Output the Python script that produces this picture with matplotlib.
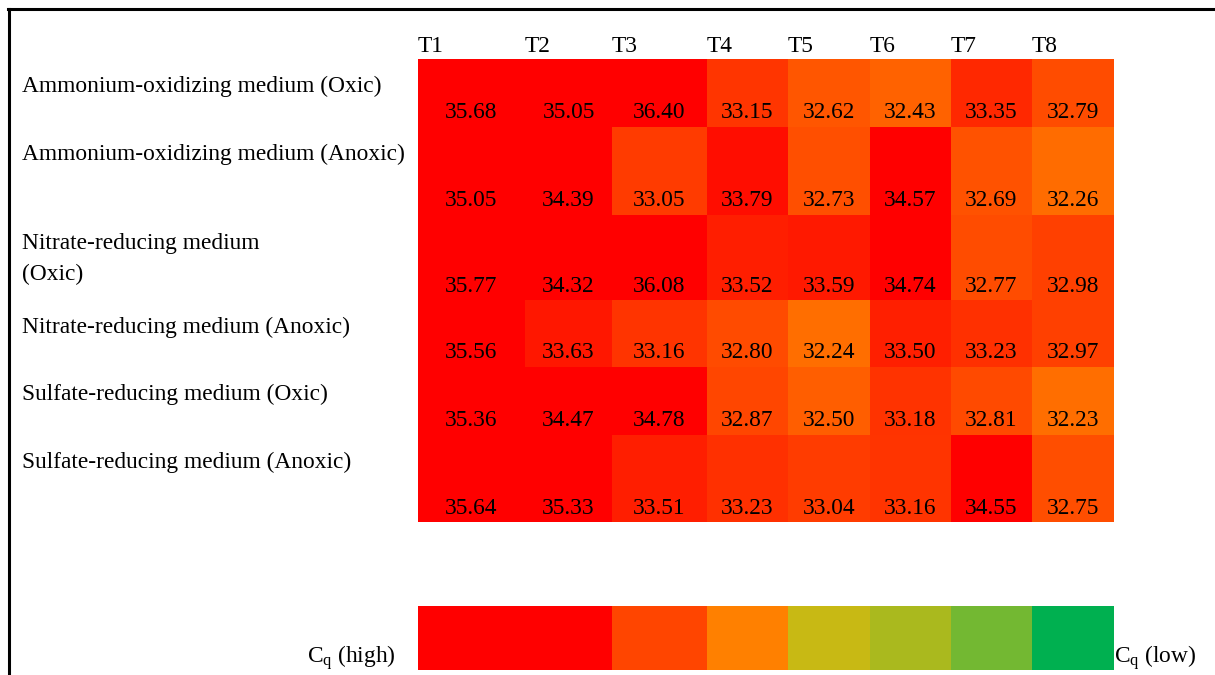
import numpy as np
import matplotlib.pyplot as plt
from matplotlib.colors import LinearSegmentedColormap, ListedColormap
from matplotlib.lines import Line2D

plt.rcParams['font.family'] = ['Liberation Serif', 'DejaVu Serif']
plt.rcParams['mathtext.fontset'] = 'custom'
plt.rcParams['mathtext.rm'] = 'Liberation Serif'
plt.rcParams['mathtext.it'] = 'Liberation Serif:italic'

# ----- data -----
columns = ["T1", "T2", "T3", "T4", "T5", "T6", "T7", "T8"]
rows = [
    "Ammonium-oxidizing medium (Oxic)",
    "Ammonium-oxidizing medium (Anoxic)",
    "Nitrate-reducing medium\n(Oxic)",
    "Nitrate-reducing medium (Anoxic)",
    "Sulfate-reducing medium (Oxic)",
    "Sulfate-reducing medium (Anoxic)",
]
cq = np.array([
    [35.68, 35.05, 36.40, 33.15, 32.62, 32.43, 33.35, 32.79],
    [35.05, 34.39, 33.05, 33.79, 32.73, 34.57, 32.69, 32.26],
    [35.77, 34.32, 36.08, 33.52, 33.59, 34.74, 32.77, 32.98],
    [35.56, 33.63, 33.16, 32.80, 32.24, 33.50, 33.23, 32.97],
    [35.36, 34.47, 34.78, 32.87, 32.50, 33.18, 32.81, 32.23],
    [35.64, 35.33, 33.51, 33.23, 33.04, 33.16, 34.55, 32.75],
])
legend_colors = ["#FF0000", "#FF4500", "#FF8000", "#C8B914", "#AAB91E", "#73B832", "#00B050"]

# ----- layout (pixels) -----
W, H = 1215, 675
col_w = [107, 87, 95, 81, 82, 81, 81, 82]
row_h = [68, 88, 85, 67, 68, 87]
x_edges = np.concatenate([[0], np.cumsum(col_w)])
y_edges = np.concatenate([[0], np.cumsum(row_h)])
left, top = 418, 59

fig = plt.figure(figsize=(W / 100, H / 100), dpi=100)

def px_axes(x0, y0, w, h):
    return fig.add_axes([x0 / W, 1 - (y0 + h) / H, w / W, h / H])

# heatmap
ax = px_axes(left, top, x_edges[-1], y_edges[-1])
cmap = LinearSegmentedColormap.from_list("cq", ["#FF7000", "#FF0000"])
ax.pcolormesh(x_edges, y_edges, cq, cmap=cmap, vmin=32.2, vmax=34.0)
ax.set_xlim(0, x_edges[-1])
ax.set_ylim(y_edges[-1], 0)
ax.axis("off")

fs = 16.8
for i in range(len(rows)):
    for j in range(len(columns)):
        ax.text((x_edges[j] + x_edges[j + 1]) / 2, y_edges[i + 1] - 14,
                f"{cq[i, j]:.2f}", ha="center", va="center", fontsize=fs)
    multi = "\n" in rows[i]
    ax.text(22 - left, y_edges[i] + (44 if multi else 27), rows[i], ha="left",
            va="center", fontsize=fs, clip_on=False, linespacing=1.65)
for j, c in enumerate(columns):
    ax.text(x_edges[j], -13, c, ha="left", va="center", fontsize=fs, clip_on=False)

# colour legend bar
leg_w = [col_w[0] + col_w[1]] + col_w[2:]
leg_edges = np.concatenate([[0], np.cumsum(leg_w)])
lax = px_axes(left, 606, leg_edges[-1], 64)
lax.pcolormesh(leg_edges, [0, 1], np.arange(len(legend_colors))[None, :],
               cmap=ListedColormap(legend_colors))
lax.set_xlim(0, leg_edges[-1])
lax.set_ylim(0, 1)
lax.axis("off")
lax.text(-22, 0.2, r"C$_\mathrm{q}$ (high)", ha="right", va="center", fontsize=fs)
lax.text(leg_edges[-1], 0.2, r"C$_\mathrm{q}$ (low)", ha="left", va="center", fontsize=fs)

# frame lines
fig.add_artist(Line2D([9 / W, 9 / W], [0, 1 - 9 / H], color="black", lw=2.2))
fig.add_artist(Line2D([8 / W, 1], [1 - 9 / H, 1 - 9 / H], color="black", lw=2.2))

fig.savefig("out.png", dpi=100)
